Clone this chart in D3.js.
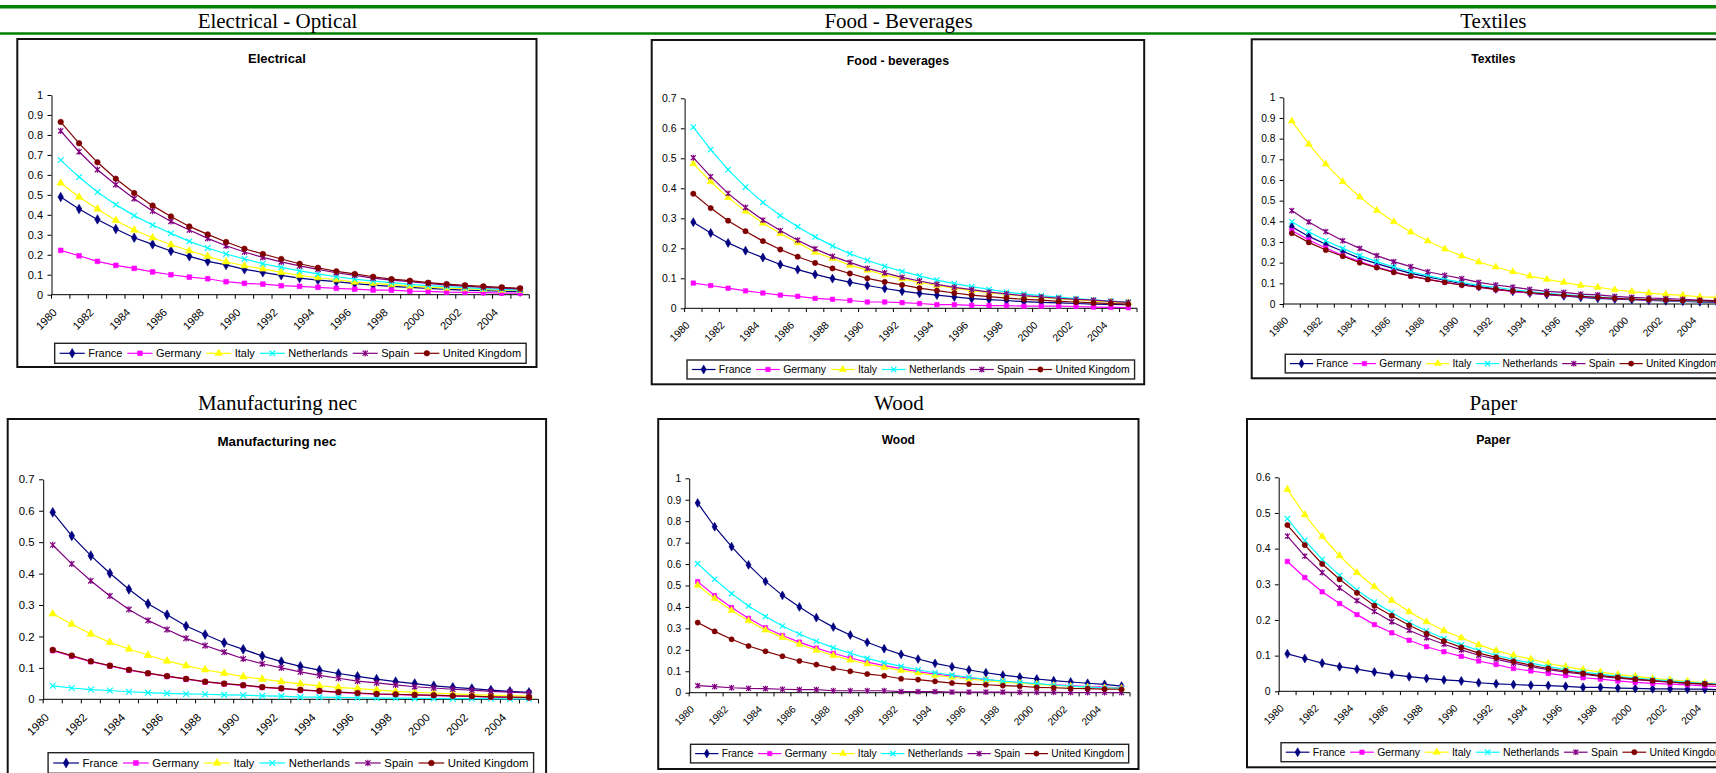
<!DOCTYPE html>
<html>
<head>
<meta charset="utf-8">
<script src="https://cdn.jsdelivr.net/npm/d3@7"></script>
<style>
  html, body { margin: 0; padding: 0; background: #fff; overflow: hidden; }
  svg { display: block; }
</style>
</head>
<body>
<div id="chart"></div>
<script>
const years = [1980, 1981, 1982, 1983, 1984, 1985, 1986, 1987, 1988, 1989, 1990, 1991, 1992,
  1993, 1994, 1995, 1996, 1997, 1998, 1999, 2000, 2001, 2002, 2003, 2004, 2005];
const yearLabels = [1980, 1982, 1984, 1986, 1988, 1990, 1992, 1994, 1996, 1998, 2000, 2002, 2004];
const countries = ["France", "Germany", "Italy", "Netherlands", "Spain", "United Kingdom"];

const sectorHeaders = ["Electrical - Optical", "Food - Beverages", "Textiles", "Manufacturing nec", "Wood", "Paper"];
const chartTitles = ["Electrical", "Food - beverages", "Textiles", "Manufacturing nec", "Wood", "Paper"];
const yMaxima = [1, 0.7, 1, 0.7, 1, 0.6];

// one row per country, same order as `countries`
const electrical = [
  [0.489, 0.429, 0.377, 0.329, 0.285, 0.252, 0.219, 0.192, 0.167, 0.149, 0.127, 0.112, 0.097, 0.083, 0.073, 0.065, 0.055, 0.048, 0.042, 0.037, 0.032, 0.027, 0.023, 0.020, 0.018, 0.015],
  [0.222, 0.195, 0.167, 0.147, 0.132, 0.114, 0.100, 0.088, 0.080, 0.065, 0.057, 0.053, 0.045, 0.042, 0.037, 0.032, 0.028, 0.023, 0.023, 0.018, 0.017, 0.013, 0.012, 0.010, 0.008, 0.008],
  [0.559, 0.489, 0.429, 0.372, 0.324, 0.285, 0.250, 0.220, 0.192, 0.165, 0.145, 0.129, 0.112, 0.097, 0.085, 0.075, 0.063, 0.057, 0.050, 0.043, 0.038, 0.033, 0.030, 0.027, 0.023, 0.022],
  [0.674, 0.589, 0.514, 0.451, 0.396, 0.349, 0.307, 0.267, 0.234, 0.204, 0.179, 0.155, 0.137, 0.119, 0.104, 0.090, 0.078, 0.068, 0.060, 0.052, 0.045, 0.040, 0.035, 0.030, 0.027, 0.023],
  [0.820, 0.716, 0.626, 0.551, 0.481, 0.419, 0.367, 0.324, 0.282, 0.245, 0.214, 0.187, 0.164, 0.144, 0.127, 0.110, 0.097, 0.083, 0.073, 0.065, 0.057, 0.048, 0.043, 0.037, 0.033, 0.028],
  [0.865, 0.758, 0.663, 0.581, 0.509, 0.446, 0.392, 0.342, 0.302, 0.264, 0.230, 0.204, 0.179, 0.155, 0.135, 0.117, 0.104, 0.090, 0.078, 0.070, 0.060, 0.053, 0.047, 0.042, 0.037, 0.032]
];
const food = [
  [0.287, 0.251, 0.218, 0.192, 0.169, 0.146, 0.129, 0.113, 0.099, 0.087, 0.076, 0.066, 0.057, 0.050, 0.044, 0.038, 0.032, 0.029, 0.026, 0.022, 0.020, 0.018, 0.016, 0.014, 0.013, 0.012],
  [0.084, 0.076, 0.067, 0.058, 0.051, 0.044, 0.040, 0.033, 0.030, 0.026, 0.021, 0.021, 0.019, 0.016, 0.012, 0.012, 0.010, 0.009, 0.009, 0.007, 0.007, 0.007, 0.006, 0.004, 0.003, 0.002],
  [0.482, 0.422, 0.369, 0.324, 0.284, 0.249, 0.219, 0.187, 0.166, 0.144, 0.127, 0.111, 0.098, 0.086, 0.076, 0.067, 0.059, 0.052, 0.046, 0.040, 0.036, 0.031, 0.028, 0.024, 0.021, 0.019],
  [0.604, 0.529, 0.462, 0.404, 0.353, 0.309, 0.272, 0.238, 0.208, 0.182, 0.160, 0.140, 0.123, 0.108, 0.094, 0.082, 0.072, 0.063, 0.054, 0.048, 0.042, 0.037, 0.032, 0.028, 0.024, 0.021],
  [0.502, 0.439, 0.383, 0.336, 0.294, 0.259, 0.227, 0.198, 0.173, 0.153, 0.133, 0.118, 0.103, 0.091, 0.080, 0.070, 0.062, 0.054, 0.048, 0.042, 0.038, 0.033, 0.030, 0.027, 0.023, 0.020],
  [0.382, 0.334, 0.292, 0.257, 0.224, 0.196, 0.172, 0.151, 0.133, 0.116, 0.100, 0.088, 0.078, 0.067, 0.059, 0.051, 0.044, 0.039, 0.034, 0.030, 0.027, 0.023, 0.021, 0.018, 0.016, 0.014]
];
const textiles = [
  [0.374, 0.327, 0.289, 0.255, 0.221, 0.195, 0.171, 0.148, 0.131, 0.115, 0.098, 0.084, 0.073, 0.061, 0.053, 0.045, 0.039, 0.032, 0.027, 0.024, 0.021, 0.018, 0.015, 0.013, 0.010, 0.008],
  [0.356, 0.310, 0.271, 0.235, 0.205, 0.179, 0.156, 0.135, 0.119, 0.105, 0.092, 0.081, 0.069, 0.061, 0.053, 0.047, 0.040, 0.035, 0.031, 0.026, 0.023, 0.019, 0.018, 0.015, 0.013, 0.011],
  [0.885, 0.773, 0.677, 0.592, 0.518, 0.453, 0.398, 0.348, 0.305, 0.266, 0.232, 0.203, 0.179, 0.156, 0.135, 0.119, 0.105, 0.090, 0.081, 0.069, 0.060, 0.053, 0.047, 0.042, 0.035, 0.032],
  [0.398, 0.350, 0.306, 0.269, 0.234, 0.205, 0.179, 0.156, 0.137, 0.119, 0.105, 0.090, 0.081, 0.069, 0.060, 0.052, 0.045, 0.039, 0.034, 0.029, 0.024, 0.021, 0.018, 0.015, 0.013, 0.011],
  [0.452, 0.397, 0.350, 0.306, 0.269, 0.234, 0.205, 0.181, 0.156, 0.139, 0.123, 0.105, 0.092, 0.082, 0.071, 0.061, 0.056, 0.048, 0.044, 0.037, 0.032, 0.029, 0.026, 0.023, 0.019, 0.016],
  [0.342, 0.298, 0.261, 0.231, 0.200, 0.176, 0.153, 0.135, 0.119, 0.105, 0.092, 0.081, 0.071, 0.063, 0.055, 0.048, 0.042, 0.037, 0.032, 0.027, 0.024, 0.021, 0.019, 0.016, 0.015, 0.013]
];
const manufacturing = [
  [0.595, 0.520, 0.457, 0.401, 0.350, 0.304, 0.269, 0.233, 0.206, 0.180, 0.159, 0.138, 0.120, 0.105, 0.093, 0.082, 0.073, 0.064, 0.056, 0.050, 0.043, 0.038, 0.034, 0.029, 0.025, 0.022],
  [0.155, 0.137, 0.120, 0.106, 0.093, 0.082, 0.073, 0.064, 0.055, 0.049, 0.044, 0.038, 0.034, 0.029, 0.026, 0.022, 0.019, 0.016, 0.015, 0.013, 0.012, 0.010, 0.009, 0.007, 0.006, 0.005],
  [0.272, 0.239, 0.208, 0.181, 0.160, 0.140, 0.122, 0.107, 0.094, 0.083, 0.072, 0.064, 0.056, 0.049, 0.043, 0.038, 0.034, 0.030, 0.025, 0.022, 0.020, 0.017, 0.015, 0.013, 0.012, 0.010],
  [0.043, 0.036, 0.031, 0.028, 0.024, 0.021, 0.019, 0.017, 0.016, 0.014, 0.013, 0.011, 0.010, 0.007, 0.007, 0.006, 0.005, 0.004, 0.004, 0.003, 0.003, 0.002, 0.002, 0.002, 0.001, 0.001],
  [0.491, 0.431, 0.377, 0.329, 0.286, 0.251, 0.222, 0.194, 0.171, 0.150, 0.129, 0.113, 0.100, 0.087, 0.076, 0.067, 0.058, 0.052, 0.046, 0.040, 0.036, 0.032, 0.029, 0.025, 0.023, 0.020],
  [0.157, 0.139, 0.121, 0.107, 0.094, 0.083, 0.074, 0.065, 0.056, 0.050, 0.045, 0.039, 0.035, 0.030, 0.027, 0.023, 0.020, 0.017, 0.016, 0.014, 0.013, 0.011, 0.010, 0.008, 0.007, 0.006]
];
const wood = [
  [0.885, 0.774, 0.681, 0.596, 0.519, 0.454, 0.400, 0.350, 0.306, 0.269, 0.235, 0.205, 0.179, 0.157, 0.137, 0.121, 0.106, 0.093, 0.082, 0.073, 0.064, 0.056, 0.050, 0.044, 0.039, 0.031],
  [0.518, 0.453, 0.397, 0.347, 0.303, 0.267, 0.236, 0.208, 0.184, 0.162, 0.143, 0.126, 0.112, 0.098, 0.087, 0.078, 0.068, 0.061, 0.053, 0.047, 0.040, 0.037, 0.033, 0.028, 0.026, 0.022],
  [0.501, 0.439, 0.383, 0.336, 0.292, 0.258, 0.226, 0.198, 0.174, 0.152, 0.134, 0.118, 0.104, 0.092, 0.081, 0.072, 0.064, 0.056, 0.050, 0.044, 0.039, 0.034, 0.030, 0.026, 0.023, 0.020],
  [0.602, 0.529, 0.462, 0.404, 0.355, 0.311, 0.274, 0.240, 0.210, 0.184, 0.160, 0.140, 0.123, 0.107, 0.093, 0.082, 0.072, 0.062, 0.054, 0.048, 0.042, 0.036, 0.031, 0.026, 0.023, 0.020],
  [0.033, 0.028, 0.023, 0.020, 0.019, 0.016, 0.014, 0.014, 0.009, 0.009, 0.009, 0.009, 0.005, 0.005, 0.005, 0.003, 0.003, 0.003, 0.003, 0.002, 0.002, 0.002, 0.001, 0.001, 0.001, 0.000],
  [0.327, 0.286, 0.249, 0.218, 0.193, 0.170, 0.148, 0.131, 0.114, 0.100, 0.087, 0.079, 0.065, 0.061, 0.053, 0.045, 0.040, 0.037, 0.033, 0.030, 0.025, 0.023, 0.020, 0.019, 0.017, 0.016]
];
const paper = [
  [0.105, 0.092, 0.079, 0.069, 0.062, 0.054, 0.047, 0.041, 0.036, 0.032, 0.029, 0.024, 0.021, 0.019, 0.017, 0.016, 0.014, 0.011, 0.011, 0.009, 0.008, 0.007, 0.007, 0.006, 0.006, 0.004],
  [0.364, 0.319, 0.279, 0.246, 0.215, 0.187, 0.164, 0.143, 0.125, 0.111, 0.098, 0.085, 0.075, 0.064, 0.057, 0.050, 0.044, 0.038, 0.034, 0.029, 0.025, 0.022, 0.020, 0.018, 0.015, 0.013],
  [0.566, 0.495, 0.434, 0.380, 0.333, 0.293, 0.255, 0.223, 0.195, 0.170, 0.150, 0.130, 0.114, 0.101, 0.090, 0.078, 0.069, 0.061, 0.054, 0.047, 0.042, 0.036, 0.032, 0.028, 0.024, 0.021],
  [0.484, 0.423, 0.370, 0.325, 0.284, 0.250, 0.221, 0.193, 0.169, 0.148, 0.130, 0.115, 0.101, 0.089, 0.079, 0.069, 0.061, 0.054, 0.048, 0.042, 0.037, 0.033, 0.029, 0.025, 0.022, 0.020],
  [0.435, 0.379, 0.333, 0.290, 0.254, 0.224, 0.195, 0.171, 0.150, 0.132, 0.116, 0.101, 0.090, 0.079, 0.069, 0.061, 0.054, 0.048, 0.042, 0.037, 0.033, 0.029, 0.026, 0.022, 0.020, 0.018],
  [0.466, 0.410, 0.357, 0.314, 0.276, 0.240, 0.212, 0.185, 0.162, 0.141, 0.123, 0.107, 0.095, 0.084, 0.073, 0.064, 0.057, 0.050, 0.044, 0.039, 0.034, 0.030, 0.026, 0.023, 0.021, 0.018]
];
const sectorData = [electrical, food, textiles, manufacturing, wood, paper];

// styles (Excel default palette)
const seriesColours = ["#000080", "#ff00ff", "#ffff00", "#00ffff", "#800080", "#800000"];
const seriesMarkers = ["diamond", "square", "triangle", "cross", "star", "circle"];

const w = 1716;
const h = 773;

// page geometry of each pasted chart: box, plot area, title/legend position, font scale
const layouts = [
  { col: 277.5, head: 28, box: [17.3, 39, 536.5, 367], plot: [51.5, 529.3, 95, 294.7], title: 58.3, legend: 343.3, k: 1.0 },
  { col: 898.5, head: 28, box: [651.7, 40, 1144.2, 384.3], plot: [684.6, 1137, 98.3, 308.3], title: 60.3, legend: 360, k: 0.95 },
  { col: 1493.3, head: 28, box: [1251.7, 39.3, 1735, 378.3], plot: [1283.3, 1725.3, 97.3, 304], title: 59.3, legend: 354.3, k: 0.93 },
  { col: 277.5, head: 409.5, box: [7.7, 419, 546.1, 779], plot: [43.2, 538.5, 479.3, 699.3], title: 441, legend: 752.7, k: 1.03 },
  { col: 898.9, head: 409.5, box: [658.2, 419, 1138.5, 769], plot: [689.2, 1130, 478.3, 692.7], title: 440, legend: 744.3, k: 0.93 },
  { col: 1493.3, head: 409.5, box: [1247, 419, 1739.6, 767.3], plot: [1278.7, 1730.9, 477.3, 691.3], title: 439.3, legend: 742.7, k: 0.95 }
];

const svg = d3.select("#chart").append("svg").attr("width", w).attr("height", h);

// green rules at the top of the page
svg.append("line").attr("x1", 0).attr("x2", w).attr("y1", 6.8).attr("y2", 6.8)
  .attr("stroke", "#008000").attr("stroke-width", 3.6);
svg.append("line").attr("x1", 0).attr("x2", w).attr("y1", 33.5).attr("y2", 33.5)
  .attr("stroke", "#008000").attr("stroke-width", 2.4);

function markerPath(type, s) {
  switch (type) {
    case "diamond": return d3.symbol(d3.symbolDiamond, 26 * s * s)();
    case "square": return d3.symbol(d3.symbolSquare, 22 * s * s)();
    case "triangle": return d3.symbol(d3.symbolTriangle, 24 * s * s)();
    case "circle": return d3.symbol(d3.symbolCircle, 24 * s * s)();
    case "cross": {
      const r = 2.8 * s;
      return `M${-r},${-r}L${r},${r}M${-r},${r}L${r},${-r}`;
    }
    default: {
      const r = 2.6 * s;
      return `M${-r},${-r}L${r},${r}M${-r},${r}L${r},${-r}M0,${-r * 1.2}L0,${r * 1.2}`;
    }
  }
}

function drawMarker(sel, i, s) {
  const type = seriesMarkers[i];
  const open = type === "cross" || type === "star";
  sel.append("path")
    .attr("d", markerPath(type, s))
    .attr("fill", open ? "none" : seriesColours[i])
    .attr("stroke", seriesColours[i])
    .attr("stroke-width", open ? 1.2 : 0.6);
}

function drawChart(n) {
  const L = layouts[n];
  const k = L.k;
  const data = sectorData[n];
  const [bx0, by0, bx1, by1] = L.box;
  const [px0, px1, pyTop, pyBottom] = L.plot;

  // section header above the chart
  svg.append("text")
    .attr("x", L.col).attr("y", L.head)
    .attr("text-anchor", "middle")
    .style("font-family", "'Liberation Serif', 'Times New Roman', serif")
    .style("font-size", "21px")
    .style("fill", "#000")
    .text(sectorHeaders[n]);

  const g = svg.append("g");

  g.append("rect")
    .attr("x", bx0).attr("y", by0)
    .attr("width", bx1 - bx0).attr("height", by1 - by0)
    .attr("fill", "#fff").attr("stroke", "#111").attr("stroke-width", 2);

  g.append("text")
    .attr("x", (bx0 + bx1) / 2).attr("y", L.title + 4.5 * k)
    .attr("text-anchor", "middle")
    .style("font-family", "'Liberation Sans', Arial, sans-serif")
    .style("font-weight", "bold")
    .style("font-size", `${13 * k}px`)
    .text(chartTitles[n]);

  const xScale = d3.scaleBand().domain(years).range([px0, px1]).padding(0);
  const yScale = d3.scaleLinear().domain([0, yMaxima[n]]).range([pyBottom, pyTop]);
  const cx = (d) => xScale(d) + xScale.bandwidth() / 2;

  // y axis
  const yTicks = d3.range(0, Math.round(yMaxima[n] * 10) + 1).map((i) => i / 10);
  const yAxis = g.append("g")
    .attr("transform", `translate(${px0},0)`)
    .call(d3.axisLeft(yScale).tickValues(yTicks).tickFormat((d) => String(d))
      .tickSize(4 * k).tickPadding(4.5 * k).tickSizeOuter(0));
  yAxis.selectAll("text")
    .style("font-family", "'Liberation Sans', Arial, sans-serif")
    .style("font-size", `${11 * k}px`).style("fill", "#000");
  yAxis.selectAll("path, line").attr("stroke", "#000");

  // x axis: tick marks on category boundaries, every second year labelled
  const xAxis = g.append("g");
  xAxis.append("line")
    .attr("x1", px0).attr("x2", px1).attr("y1", pyBottom).attr("y2", pyBottom)
    .attr("stroke", "#000");
  xAxis.selectAll("line.tick")
    .data(years.map((d) => xScale(d)).concat([px1]))
    .enter()
    .append("line")
    .attr("class", "tick")
    .attr("x1", (d) => d).attr("x2", (d) => d)
    .attr("y1", pyBottom).attr("y2", pyBottom + 4 * k)
    .attr("stroke", "#000");
  xAxis.selectAll("text")
    .data(yearLabels)
    .enter()
    .append("text")
    .attr("text-anchor", "end")
    .attr("transform", (d) => `translate(${cx(d) - 3 * k},${pyBottom + 18.5 * k}) rotate(-45)`)
    .style("font-family", "'Liberation Sans', Arial, sans-serif")
    .style("font-size", `${11 * k}px`)
    .text((d) => d);

  // series
  const line = d3.line().x((d, i) => cx(years[i])).y((d) => yScale(d));
  data.forEach((values, i) => {
    const sg = g.append("g");
    sg.append("path")
      .datum(values)
      .attr("d", line)
      .attr("fill", "none")
      .attr("stroke", seriesColours[i])
      .attr("stroke-width", 1.2);
    sg.selectAll("g.pt")
      .data(values)
      .enter()
      .append("g")
      .attr("class", "pt")
      .attr("transform", (d, j) => `translate(${cx(years[j])},${yScale(d)})`)
      .each(function () { drawMarker(d3.select(this), i, k); });
  });

  // legend, centred under the plot area
  const lg = g.append("g");
  const legendH = 20 * k;
  const lrect = lg.append("rect").attr("y", 0).attr("height", legendH)
    .attr("fill", "#fff").attr("stroke", "#222").attr("stroke-width", 1.4);
  let xpos = 5 * k;
  countries.forEach((c, i) => {
    const sampleW = 25 * k;
    lg.append("line")
      .attr("x1", xpos).attr("x2", xpos + sampleW)
      .attr("y1", legendH / 2).attr("y2", legendH / 2)
      .attr("stroke", seriesColours[i]).attr("stroke-width", 1.2);
    drawMarker(lg.append("g").attr("transform", `translate(${xpos + sampleW / 2},${legendH / 2})`), i, k);
    const t = lg.append("text")
      .attr("x", xpos + sampleW + 3.5 * k)
      .attr("y", legendH / 2 + 4 * k)
      .style("font-family", "'Liberation Sans', Arial, sans-serif")
      .style("font-size", `${11 * k}px`)
      .text(c);
    xpos += sampleW + 3.5 * k + t.node().getComputedTextLength() + 5 * k;
  });
  lrect.attr("x", 0).attr("width", xpos);
  lg.attr("transform", `translate(${(px0 + px1) / 2 - xpos / 2},${L.legend})`);
}

d3.range(layouts.length).forEach(drawChart);
</script>
</body>
</html>
